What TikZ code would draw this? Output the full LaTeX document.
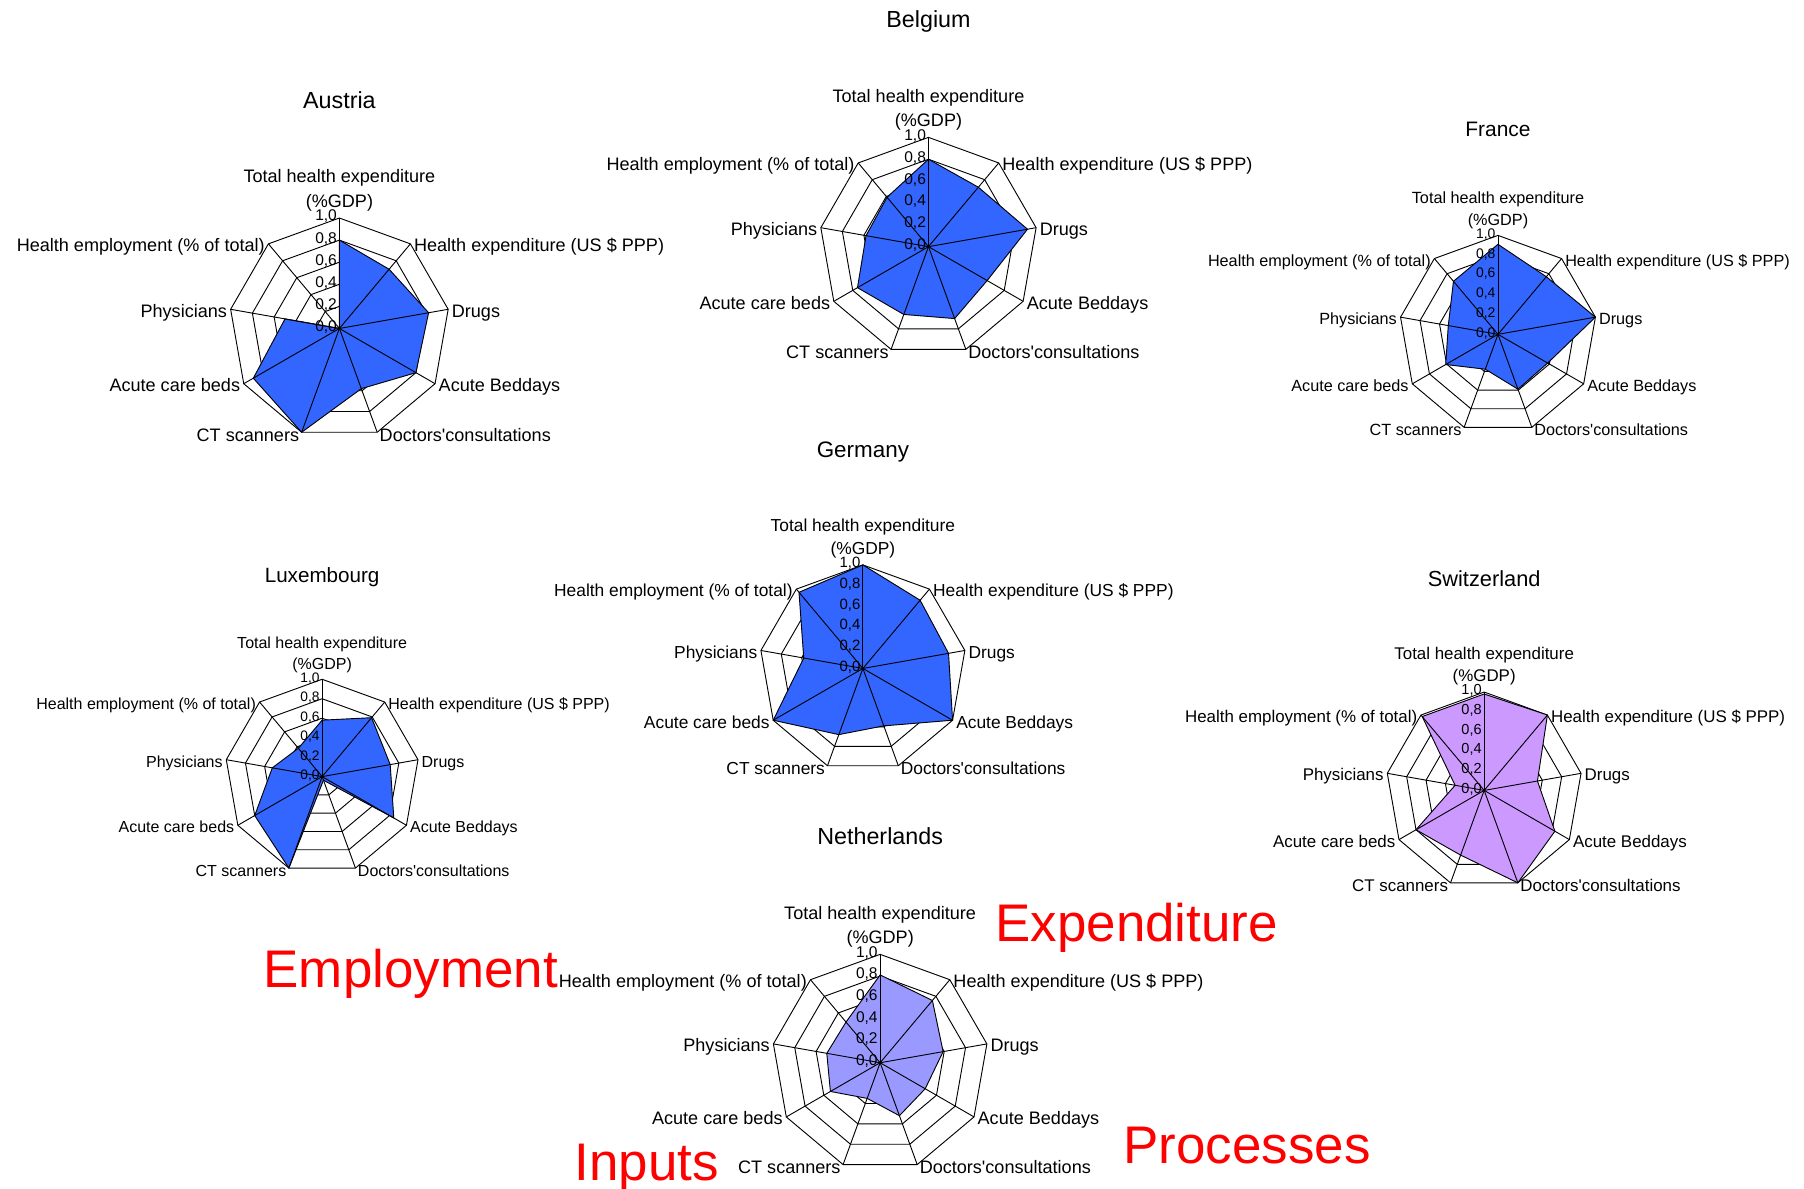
\documentclass[tikz,border=0pt]{standalone}
\usepackage{fontspec}
\setmainfont{Liberation Sans}
\definecolor{rblue}{RGB}{51,102,255}
\definecolor{rlav}{RGB}{204,153,255}
\definecolor{rperi}{RGB}{153,153,255}
\tikzset{
  gridline/.style={draw=black, line width=0.8pt, line join=miter},
  axisline/.style={draw=black, line width=0.8pt},
  datapoly/.style={draw=black, line width=0.8pt, line join=miter},
  bigred/.style={text=red, font=\fontsize{46}{50}\selectfont, inner sep=0pt},
}
% #1 name, #2 cx, #3 cy, #4 R, #5 label font size, #6 fill colour, #7 values, #8 title, #9 title y
\newcommand{\radarchart}[9]{%
  \pgfmathsetmacro\rcbs{#5*1.34}%
  \pgfmathsetmacro\rctk{#5*0.86}%
  \pgfmathsetmacro\rctkb{#5*1.0}%
  \pgfmathsetmacro\rctt{#5*1.29}%
  \pgfmathsetmacro\rcttb{#5*1.5}%
  \pgfmathsetmacro\rcgap{#5*0.38}%
  \pgfmathsetmacro\rcsd{-#5*0.28}%
  \pgfmathsetmacro\rcbd{-#5*0.34}%
  \pgfmathsetmacro\rctity{#3-#9-0.36*\rctt}%
  \begin{scope}[shift={(#2,-#3)},
      lab/.style={font=\fontsize{#5}{\rcbs}\selectfont, inner sep=0pt, text height=0.72em, text depth=0.21em},
      tick/.style={font=\fontsize{\rctk}{\rctkb}\selectfont, inner sep=0pt, anchor=east, text height=0.72em, text depth=0.21em}]
    \foreach \kk in {0,...,8} {\coordinate (#1-v\kk) at ({90-40*\kk}:#4);}
    \foreach \rr in {0.2,0.4,0.6,0.8,1.0} {
      \draw[gridline] (90:{\rr*#4}) -- (50:{\rr*#4}) -- (10:{\rr*#4}) -- (-30:{\rr*#4}) -- (-70:{\rr*#4})
        -- (-110:{\rr*#4}) -- (-150:{\rr*#4}) -- (-190:{\rr*#4}) -- (-230:{\rr*#4}) -- cycle;
    }
    \foreach \vv [count=\kk from 0] in {#7} {\coordinate (#1-p\kk) at ({90-40*\kk}:{\vv*#4});}
    \draw[datapoly, fill=#6] (#1-p0) -- (#1-p1) -- (#1-p2) -- (#1-p3) -- (#1-p4) -- (#1-p5) -- (#1-p6) -- (#1-p7) -- (#1-p8) -- cycle;
    \coordinate (#1-c) at (0,0);
    \foreach \kk in {0,...,8} {\draw[axisline] (#1-c) -- (#1-v\kk);}
    \foreach \rr/\aa/\bb in {0/0/0,1/0/2,2/0/4,3/0/6,4/0/8,5/1/0} {
      \node[tick] (#1-t\rr) at (-2,{\rr*0.2*#4}) {\aa,\bb};
    }
    \node[font=\fontsize{#5}{\rcbs}\selectfont, inner sep=0pt, align=center, anchor=south, yshift=\rcgap] (#1-l0) at (#1-v0) {Total health expenditure\\(\%GDP)};
    \node[lab, anchor=west, xshift=3, yshift=\rcsd] (#1-l1) at (#1-v1) {Health expenditure (US \$ PPP)};
    \node[lab, anchor=west, xshift=3, yshift=\rcsd] (#1-l2) at (#1-v2) {Drugs};
    \node[lab, anchor=west, xshift=3, yshift=\rcsd] (#1-l3) at (#1-v3) {Acute Beddays};
    \node[lab, anchor=west, xshift=2, yshift=\rcbd] (#1-l4) at (#1-v4) {Doctors\textquotesingle consultations};
    \node[lab, anchor=east, xshift=-2, yshift=\rcbd] (#1-l5) at (#1-v5) {CT scanners};
    \node[lab, anchor=east, xshift=-3, yshift=\rcsd] (#1-l6) at (#1-v6) {Acute care beds};
    \node[lab, anchor=east, xshift=-3, yshift=\rcsd] (#1-l7) at (#1-v7) {Physicians};
    \node[lab, anchor=east, xshift=-3, yshift=\rcsd] (#1-l8) at (#1-v8) {Health employment (\% of total)};
    \node[font=\fontsize{\rctt}{\rcttb}\selectfont, inner sep=0pt, anchor=base] (#1-title) at (0,\rctity) {#8};
  \end{scope}
}
\begin{document}
\begin{tikzpicture}[x=1pt,y=1pt]
\path[use as bounding box, fill=white] (0,0) rectangle (1568,-1033);

\radarchart{aut}{295}{285.5}{96}{15.7}{rblue}{0.8,0.7,0.82,0.8,0.58,1.0,0.9,0.5,0.0}{Austria}{87}
\radarchart{bel}{807}{214.4}{95}{15.7}{rblue}{0.8,0.71,0.92,0.62,0.70,0.66,0.75,0.58,0.59}{Belgium}{17}
\radarchart{fra}{1302}{290.6}{86}{14.1}{rblue}{0.91,0.76,1.0,0.58,0.59,0.375,0.61,0.51,0.70}{France}{112}
\radarchart{lux}{280}{675}{84.6}{13.9}{rblue}{0.58,0.79,0.71,0.85,0.04,1.0,0.80,0.52,0.38}{Luxembourg}{500}
\radarchart{ger}{750}{581}{90}{15.1}{rblue}{1.0,0.86,0.84,1.0,0.59,0.68,1.0,0.58,0.96}{Germany}{391}
\radarchart{sui}{1290}{687}{85.5}{14.7}{rlav}{0.98,1.0,0.55,0.83,1.0,0.70,0.80,0.30,0.98}{Switzerland}{503}
\radarchart{ned}{765}{923.7}{94.2}{15.7}{rperi}{0.81,0.75,0.59,0.48,0.52,0.35,0.53,0.50,0.49}{Netherlands}{727}

\node[bigred, anchor=base] (expenditure) at (988,-818) {Expenditure};
\node[bigred, anchor=base] (employment) at (357,-858) {Employment};
\node[bigred, anchor=base] (inputs) at (562,-1026) {Inputs};
\node[bigred, anchor=base] (processes) at (1084,-1011) {Processes};
\end{tikzpicture}
\end{document}
